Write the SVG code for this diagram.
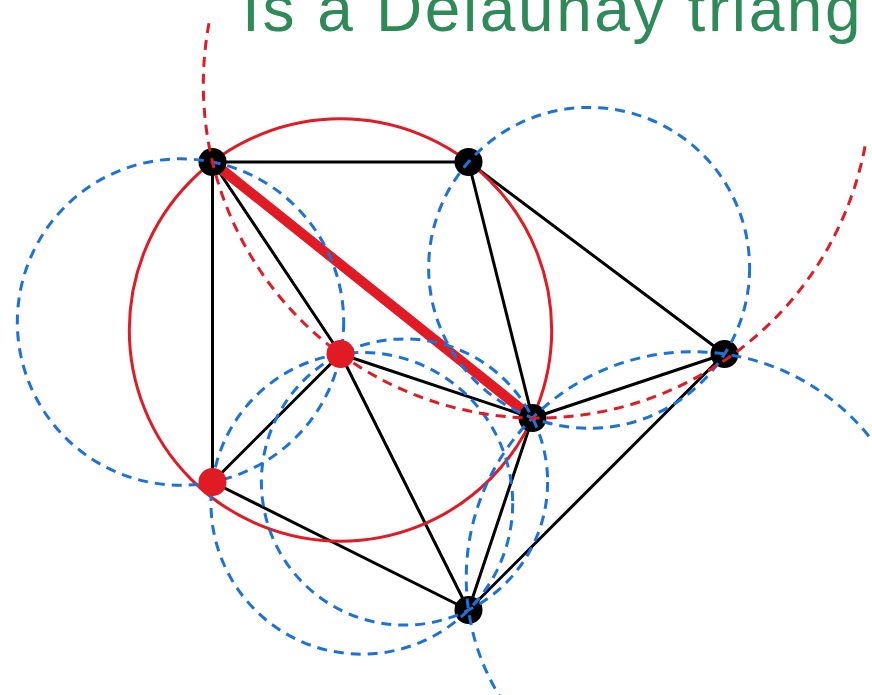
<svg xmlns="http://www.w3.org/2000/svg" width="872" height="695" viewBox="0 0 872 695">
<style>
.edge{stroke:#000;stroke-width:3;fill:none;stroke-linecap:round}
.bad{stroke:#e01b24;stroke-width:10;fill:none;stroke-linecap:round}
.cc{stroke:#e01b24;stroke-width:3;fill:none}
.rd{stroke:#e01b24;stroke-width:3;fill:none;stroke-dasharray:10 7}
.bd{stroke:#1c72d9;stroke-width:3;fill:none;stroke-dasharray:10 7}
.pt{fill:#000}
.rpt{fill:#e01b24}
.title{font-family:"Liberation Sans",Arial,sans-serif;font-size:64px;letter-spacing:2.6px;fill:#2e8b57}
</style>
<rect width="872" height="695" fill="#fff"/>
<text class="title" x="242" y="31">Is a Delaunay triang</text>
<g id="connectors">
<line class="edge" x1="212.5" y1="162" x2="468.5" y2="162"/>
<line class="edge" x1="212.5" y1="162" x2="212.5" y2="482"/>
<line class="edge" x1="212.5" y1="162" x2="340.5" y2="354"/>
<line class="edge" x1="468.5" y1="162" x2="532.5" y2="418"/>
<line class="edge" x1="468.5" y1="162" x2="724.5" y2="354"/>
<line class="edge" x1="724.5" y1="354" x2="532.5" y2="418"/>
<line class="edge" x1="724.5" y1="354" x2="468.5" y2="610"/>
<line class="edge" x1="340.5" y1="354" x2="532.5" y2="418"/>
<line class="edge" x1="532.5" y1="418" x2="468.5" y2="610"/>
<line class="edge" x1="340.5" y1="354" x2="212.5" y2="482"/>
<line class="edge" x1="340.5" y1="354" x2="468.5" y2="610"/>
<line class="edge" x1="212.5" y1="482" x2="468.5" y2="610"/>
<line class="bad" x1="212.5" y1="162" x2="532.5" y2="418"/>
</g>
<g id="circumcircle">
<circle class="cc" cx="340.5" cy="330" r="211.2"/>
</g>
<g id="nA"><circle class="pt" cx="212.5" cy="162" r="14"/></g>
<g id="nB"><circle class="pt" cx="468.5" cy="162" r="14"/></g>
<g id="nC"><circle class="pt" cx="724.5" cy="354" r="14"/></g>
<g id="nD"><circle class="pt" cx="532.5" cy="418" r="14"/></g>
<g id="nE"><circle class="pt" cx="468.5" cy="610" r="14"/></g>
<g id="dashed-circles">
<circle class="bd" cx="180.5" cy="322" r="163.17"/>
<circle class="bd" cx="589.12" cy="267.85" r="160.47"/>
<circle class="bd" cx="692.5" cy="578" r="226.27"/>
<circle class="bd" cx="404.5" cy="482" r="143.11"/>
<circle class="bd" cx="361.83" cy="503.33" r="150.85"/>
<path class="rd" d="M 865 146.4 A 333.75 333.75 0 1 1 210 17.9"/>
</g>
<g id="nF"><circle class="rpt" cx="212.5" cy="482" r="14"/></g>
<g id="nG"><circle class="rpt" cx="340.5" cy="354" r="14"/></g>
</svg>
